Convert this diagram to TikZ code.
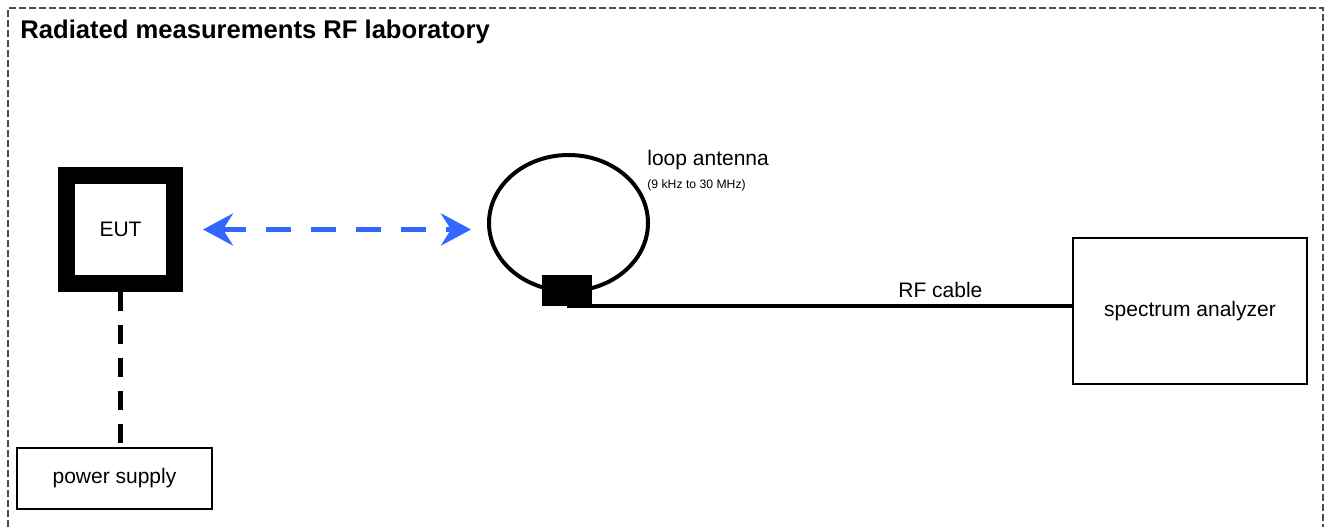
\documentclass[tikz,border=0pt]{standalone}
\usepackage{fontspec}
\setmainfont{Liberation Sans}
\usetikzlibrary{shapes.geometric,arrows.meta}
\definecolor{radio}{RGB}{51,102,255}

\begin{document}
\begin{tikzpicture}[x=0.5pt,y=-0.5pt,
    lbl/.style={font=\fontsize{10.5}{12}\selectfont},
    box/.style={draw, line width=1pt, rectangle, inner sep=0pt, lbl}]
        \useasboundingbox (0,0) rectangle (1333,527);
        % laboratory outline, open at the bottom
        \draw[gray!60!black, line width=0.6pt, dash pattern=on 3.5pt off 1.5pt] (8,527) -- (8,8) -- (1323,8) -- (1323,527);
        \node[anchor=base west, inner sep=0pt, font=\bfseries\fontsize{12.8}{14}\selectfont] (title) at (20,38) {Radiated measurements RF laboratory};
        % equipment
        \node[draw, line width=8.5pt, minimum size=54pt, inner sep=0pt, lbl] (eut) at (120.5,229.5) {EUT};
        \node[ellipse, draw, line width=2pt, minimum width=79.5pt, minimum height=68pt, inner sep=0pt] (loop) at (568.5,223) {};
        \node[fill=black, minimum width=25pt, minimum height=15.5pt, inner sep=0pt] (conn) at (567,290) {};
        \node[box, minimum width=117pt, minimum height=73pt] (sa) at (1190,311) {spectrum analyzer};
        \node[box, minimum width=97.5pt, minimum height=30.5pt] (ps) at (114.5,478.5) {power supply};
        % labels
        \node[lbl, anchor=base west, inner sep=0pt] (looplbl) at (647,165) {loop antenna};
        \node[anchor=base west, inner sep=0pt, font=\fontsize{6.1}{7}\selectfont] (range) at (647,188) {(9 kHz to 30 MHz)};
        \node[lbl, anchor=base west, inner sep=0pt] (rf) at (898,297) {RF cable};
        % connections
        \draw[radio, line width=2.5pt, dash pattern=on 12.5pt off 10pt, {Stealth[length=15pt,width=16pt,inset=5pt]}-{Stealth[length=15pt,width=16pt,inset=5pt]}, shorten <=10pt, shorten >=8pt] (eut.east) -- (eut.east -| loop.west);
        \draw[line width=1.75pt] (conn.south) -- (conn.south -| sa.west);
        \draw[line width=2.5pt, dash pattern=on 9.5pt off 7pt] (eut.south) -- (eut.south |- ps.north);
    \end{tikzpicture}
\end{document}
